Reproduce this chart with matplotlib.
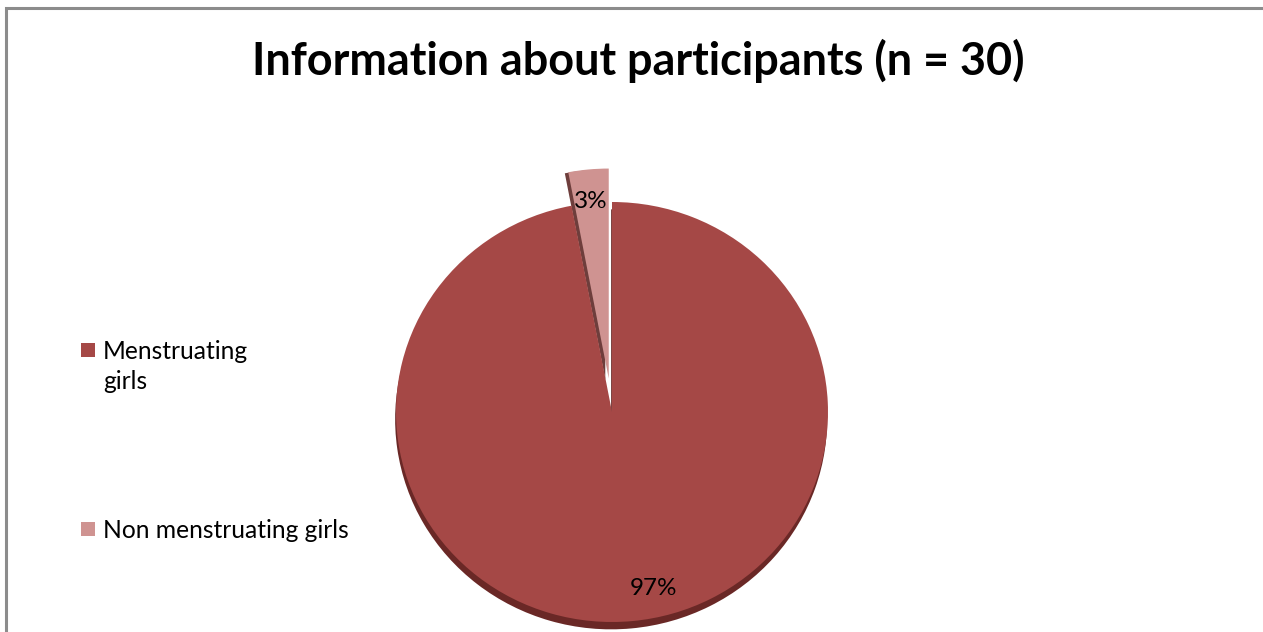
import matplotlib
matplotlib.use("Agg")
import matplotlib.pyplot as plt
from matplotlib.patches import Rectangle

# ---- data ----
title = "Information about participants (n = 30)"
categories = ["Menstruating girls", "Non menstruating girls"]
legend_labels = ["Menstruating\ngirls", "Non menstruating girls"]
values = [97, 3]
pct_labels = ["97%", "3%"]
colors = ["#A54846", "#CF9391"]
shadow_colors = ["#6A2826", "#6E3E3C"]
explode = [0.0, 0.16]

W, H = 1263, 632
fig = plt.figure(figsize=(W / 100, H / 100), dpi=100)
fig.patch.set_facecolor("white")

# background axes in pixel coordinates
bg = fig.add_axes([0, 0, 1, 1])
bg.set_xlim(0, W)
bg.set_ylim(H, 0)
bg.axis("off")
bg.plot([6, 6, W], [H, 8, 8], color="#8C8C8C", lw=2.2, solid_joinstyle="miter")
bg.text(638, 61, title, ha="center", va="center", fontsize=32.4,
        fontweight="bold", family="Lato", color="black")

# manual legend
leg_y = [350, 529]
for c, lab, y in zip(colors, legend_labels, leg_y):
    bg.add_patch(Rectangle((81, y - 7), 14, 14, facecolor=c, edgecolor="none"))
    bg.text(103, y - 10, lab, ha="left", va="top", fontsize=17.7,
            family="Lato", color="black", linespacing=1.38)

# pie axes (slightly elliptical like the 3-D look)
cx, cy, rx, ry = 612, 412, 216, 210
pax = fig.add_axes([(cx - rx) / W, (H - cy - ry) / H, 2 * rx / W, 2 * ry / H])
pax.set_xlim(-1, 1)
pax.set_ylim(-1, 1)
pax.axis("off")

# shadow layer
wsh, _ = pax.pie(values, explode=explode, colors=shadow_colors, startangle=90,
                 counterclock=False, center=(-0.004, -0.035),
                 wedgeprops=dict(linewidth=0))
wsh[1].set_center((wsh[1].center[0] - 0.012, wsh[1].center[1] + 0.03))
pax.set_aspect("auto")
# main layer
wedges, _ = pax.pie(values, explode=explode, colors=colors, startangle=90,
                    counterclock=False, wedgeprops=dict(linewidth=0))
pax.set_aspect("auto")
pax.set_xlim(-1, 1)
pax.set_ylim(-1, 1)
for w in list(wsh) + list(wedges):
    w.set_clip_on(False)

# percentage labels
pax.text(0.19, -0.84, pct_labels[0], ha="center", va="center", fontsize=17.5,
         family="Lato", color="black")
pax.text(-0.10, 1.0, pct_labels[1], ha="center", va="center", fontsize=17.5,
         family="Lato", color="black")

fig.savefig("out.png", dpi=100, facecolor="white")
